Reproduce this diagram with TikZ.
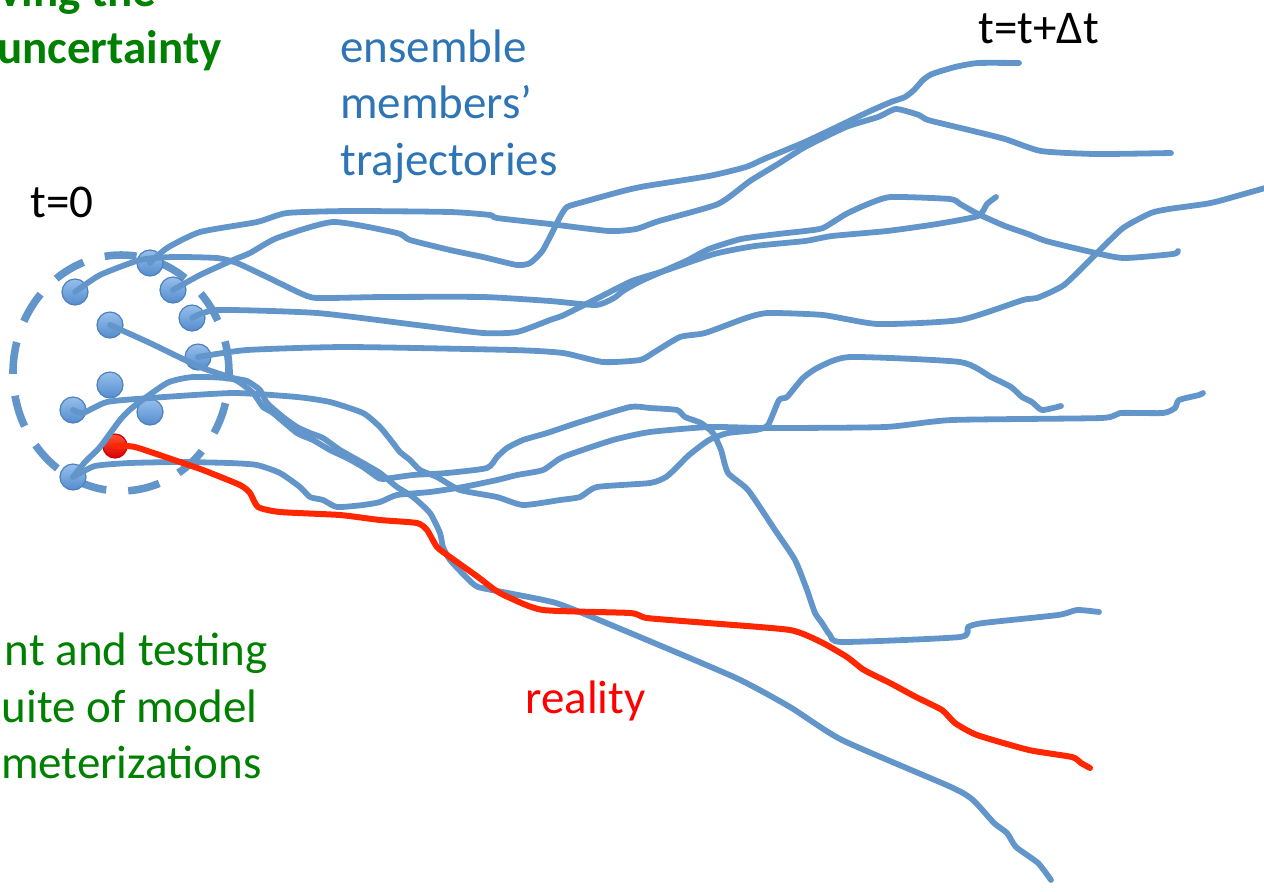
\documentclass[tikz,border=0pt]{standalone}
\usepackage{fontspec}
\setmainfont{Carlito}
\definecolor{trajblue}{RGB}{98,150,202}
\definecolor{textblue}{RGB}{46,117,182}
\definecolor{titlegreen}{RGB}{0,128,0}
\definecolor{realred}{RGB}{255,38,0}
\definecolor{dottop}{RGB}{150,192,236}
\definecolor{dotbot}{RGB}{84,140,206}
\definecolor{dotedge}{RGB}{78,128,188}

\begin{document}
\begin{tikzpicture}[x=0.5pt, y=-0.5pt,
	traj/.style={draw=trajblue, line width=2.9pt, line join=round, line cap=round},
	real/.style={draw=realred, line width=3pt, line join=round, line cap=round},
	member/.style={circle, minimum size=13pt, inner sep=0, draw=dotedge, line width=0.6pt, top color=dottop, bottom color=dotbot},
	truth/.style={circle, minimum size=12pt, inner sep=0, draw=red!80!black, line width=0.6pt, top color=realred!80!white, bottom color=red!85!black},
	lbl/.style={inner sep=0, font=\fontsize{23.5}{28.5}\selectfont}]
	\clip (0,0) rectangle (1264,891);

	\draw[trajblue, line width=3.8pt, dash pattern=on 16pt off 11pt] (121,373) ellipse [x radius=54pt, y radius=59pt];

	\node[member] (m1) at (75,292) {};
	\node[member] (m2) at (150,263) {};
	\node[member] (m3) at (173,290) {};
	\node[member] (m4) at (192,318) {};
	\node[member] (m5) at (110,325) {};
	\node[member] (m6) at (198,357) {};
	\node[member] (m7) at (110,385) {};
	\node[member] (m8) at (73,410) {};
	\node[member] (m9) at (150,412) {};
	\node[member] (m11) at (73,477) {};
	\node[truth] (r0) at (115,446) {};

	\coordinate (e1) at (1019,63);
	\coordinate (e2) at (1171,153);
	\coordinate (e3) at (1178,251);
	\coordinate (e4) at (996,197);
	\coordinate (e5) at (1272,186);
	\coordinate (e6) at (1051,880);
	\coordinate (e7) at (1099,612);
	\coordinate (e8) at (1061,406);
	\coordinate (e9) at (1203,393);
	\coordinate (er) at (1090,768);

	\draw[traj] plot[smooth, tension=0.35] coordinates {(m2.center) (167,248) (200,232) (257,222) (287,213) (350,211) (450,212) (490,215) (497,218) (550,224) (609,231) (636,229) (659,221) (718,204) (750,181) (778,164) (805,147) (846,127) (878,117) (896,109) (919,115) (928,120) (969,130) (1005,139) (1041,151) (1096,154) (e2)};
	\draw[traj] plot[smooth, tension=0.35] coordinates {(m3.center) (200,275) (233,260) (250,253) (277,238) (333,222) (397,233) (410,240) (450,250) (483,257) (517,265) (530,263) (543,250) (560,217) (567,207) (583,202) (623,191) (646,186) (709,176) (746,167) (764,159) (805,142) (841,125) (868,112) (891,102) (905,97) (914,90) (923,80) (932,74) (955,67) (978,63) (e1)};
	\draw[traj] plot[smooth, tension=0.35] coordinates {(m1.center) (100,275) (140,260) (173,257) (217,258) (237,263) (267,277) (300,293) (317,298) (383,297) (483,297) (550,301) (596,305) (614,298) (623,291) (641,281) (686,261) (709,249) (741,239) (778,234) (805,231) (823,228) (846,214) (868,204) (891,197) (950,199) (960,204) (978,214) (1005,226) (1028,234) (1046,241) (1087,251) (1123,258) (1173,254) (e3)};
	\draw[traj] plot[smooth, tension=0.35] coordinates {(m4.center) (217,310) (317,313) (417,325) (483,333) (517,332) (550,320) (564,315) (600,297) (632,281) (664,271) (714,254) (755,246) (805,241) (832,236) (887,231) (937,224) (978,216) (987,204) (e4)};
	\draw[traj] plot[smooth, tension=0.35] coordinates {(m6.center) (247,350) (347,347) (513,350) (563,353) (603,362) (640,360) (653,353) (680,337) (705,333) (746,318) (768,313) (823,315) (878,324) (960,320) (1023,300) (1037,298) (1064,285) (1096,254) (1123,228) (1151,213) (1169,209) (1205,204) (1219,201) (1251,192) (e5)};
	\draw[traj] plot[smooth, tension=0.35] coordinates {(m5.center) (150,343) (200,367) (233,378) (247,381) (260,390) (267,403) (283,417) (297,427) (310,433) (323,438) (340,450) (363,463) (380,473) (397,487) (413,497) (430,513) (440,533) (443,547) (450,560) (467,578) (478,587) (508,593) (556,603) (604,622) (734,677) (790,707) (842,740) (951,787) (973,800) (994,823) (1007,833) (1016,847) (1038,863) (e6)};
	\draw[traj] plot[smooth, tension=0.35] coordinates {(m11.center) (85,462) (100,447) (120,420) (133,407) (167,383) (193,377) (233,379) (253,393) (263,407) (273,413) (297,433) (313,440) (330,450) (347,458) (363,467) (377,477) (383,479) (413,475) (447,473) (487,468) (497,457) (507,448) (523,440) (547,433) (580,422) (630,407) (650,408) (677,410) (685,417) (701,423) (713,433) (721,450) (728,473) (748,490) (775,530) (795,560) (807,590) (815,613) (822,623) (830,635) (842,642) (960,637) (968,627) (983,623) (1058,615) (1077,610) (e7)};
	\draw[traj] plot[smooth, tension=0.35] coordinates {(m8.center) (83,413) (107,402) (150,398) (233,393) (297,397) (330,402) (363,413) (380,427) (393,443) (400,452) (410,460) (420,470) (437,477) (460,490) (497,497) (523,505) (560,500) (580,497) (597,487) (650,483) (666,477) (677,467) (689,455) (709,440) (728,433) (756,430) (768,425) (779,400) (787,397) (803,378) (819,367) (850,357) (960,362) (991,377) (1011,387) (1022,397) (1032,402) (1042,410) (e8)};
	\draw[traj] plot[smooth, tension=0.35] coordinates {(m11.center) (95,466) (130,463) (180,462) (230,463) (257,465) (280,473) (300,487) (310,497) (323,500) (337,507) (363,505) (380,502) (397,495) (430,492) (463,487) (497,480) (517,475) (543,470) (563,457) (613,440) (650,432) (709,427) (768,428) (885,427) (952,420) (1101,418) (1120,413) (1163,413) (1175,408) (1179,400) (1199,395) (e9)};
	\draw[real] plot[smooth, tension=0.35] coordinates {(r0.center) (135,447) (180,462) (203,470) (240,485) (250,493) (258,507) (280,512) (340,515) (380,520) (417,523) (427,530) (437,547) (450,557) (478,577) (495,590) (508,597) (543,610) (630,613) (647,618) (708,623) (790,630) (821,642) (847,657) (864,670) (890,683) (916,697) (942,710) (955,723) (977,735) (1029,750) (1072,757) (1081,763) (er)};

	\node[lbl, text=titlegreen, anchor=base east] (ttl1) at (157,6) {\bfseries ving the};
	\node[lbl, text=titlegreen, anchor=base east] (ttl2) at (222,63) {\bfseries uncertainty};
	\node[lbl, text=textblue, anchor=base west] (ens1) at (340,62) {ensemble};
	\node[lbl, text=textblue, anchor=base west] (ens2) at (340,118) {members’};
	\node[lbl, text=textblue, anchor=base west] (ens3) at (340,175) {trajectories};
	\node[lbl, anchor=base west] (t0) at (30,217) {t=0};
	\node[lbl, anchor=base west] (tdt) at (978,43) {t=t+Δt};
	\node[lbl, text=red, anchor=base west] (real) at (525,713) {reality};
	\node[lbl, text=titlegreen, anchor=base east] (dev1) at (268,665) {nt and testing};
	\node[lbl, text=titlegreen, anchor=base east] (dev2) at (258,722) {uite of model};
	\node[lbl, text=titlegreen, anchor=base east] (dev3) at (262,778) {meterizations};
\end{tikzpicture}
\end{document}
